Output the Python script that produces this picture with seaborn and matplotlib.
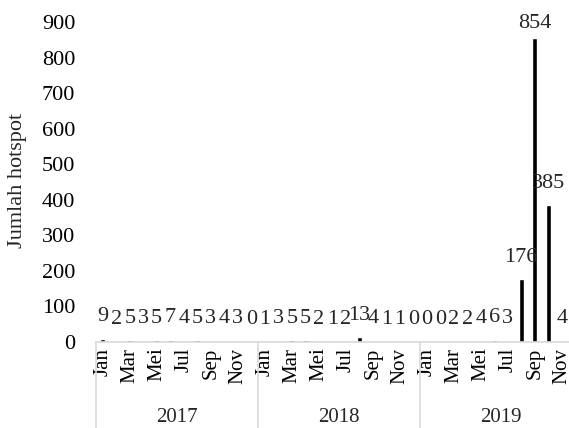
import matplotlib
matplotlib.use("Agg")
import matplotlib.pyplot as plt
import matplotlib.transforms as mtransforms
import seaborn as sns
import pandas as pd

# monthly hotspot counts, 2017 - 2019 (Dec 2019 is cut off in the source)
years = ["2017", "2018", "2019"]
months = ["Jan", "Feb", "Mar", "Apr", "Mei", "Jun", "Jul", "Agu", "Sep", "Okt", "Nov", "Des"]
hot_2017 = [9, 2, 5, 3, 5, 7, 4, 5, 3, 4, 3, 0]
hot_2018 = [1, 3, 5, 5, 2, 1, 2, 13, 4, 1, 1, 0]
hot_2019 = [0, 0, 2, 2, 4, 6, 3, 176, 854, 385, 4]

values = hot_2017 + hot_2018 + hot_2019
df = pd.DataFrame({"idx": range(len(values)), "hotspot": values})

sns.set_theme(style="white")
plt.rcParams["font.family"] = ["Liberation Serif", "DejaVu Serif"]

fig = plt.figure(figsize=(5.69, 4.28), dpi=100)
ax = fig.add_axes([96 / 569, 1 - 342 / 428, 486 / 569, 320 / 428])

sns.barplot(data=df, x="idx", y="hotspot", color="black", width=0.37,
            saturation=1, ax=ax)

ax.set_ylim(0, 900)
ax.set_yticks(range(0, 901, 100))
ax.set_xlim(-0.5, 35.5)

# month ticks, every other month
ticks = list(range(0, 36, 2))
ax.set_xticks(ticks)
ax.set_xticklabels([months[t % 12] for t in ticks], rotation=90, fontsize=15)
for lbl in ax.get_xticklabels():
    lbl.set_va("top")
    lbl.set_ha("center")

ax.tick_params(axis="both", length=0, colors="black")
ax.tick_params(axis="y", labelsize=16, pad=15)
ax.tick_params(axis="x", pad=4)
ax.set_xlabel("")
ax.set_ylabel("")
fig.text(18 / 569, 1 - 180 / 428, "Jumlah hotspot", rotation=90,
         ha="center", va="center", fontsize=16)

for side in ["top", "right", "left"]:
    ax.spines[side].set_visible(False)
ax.spines["bottom"].set_color("#d9d9d9")
ax.spines["bottom"].set_linewidth(1.2)

# value labels (kept inside the plot area near the top, like Excel does)
for i, v in enumerate(values):
    off = 3.5 if v > 800 else 9
    ax.annotate(str(v), (i, v), xytext=(0, off), textcoords="offset points",
                ha="center", va="bottom", fontsize=16)

# year grouping below the months
trans = mtransforms.blended_transform_factory(ax.transData, ax.transAxes)
for k in range(len(years) + 1):
    x = 12 * k - 0.5
    ax.plot([x, x], [0, -0.28], color="#d9d9d9", lw=1.2,
            transform=trans, clip_on=False)
for k, yr in enumerate(years):
    ax.text(12 * k + 5.5, -0.235, yr, transform=trans, ha="center",
            va="center", fontsize=15)

fig.savefig("out.png", dpi=100)
